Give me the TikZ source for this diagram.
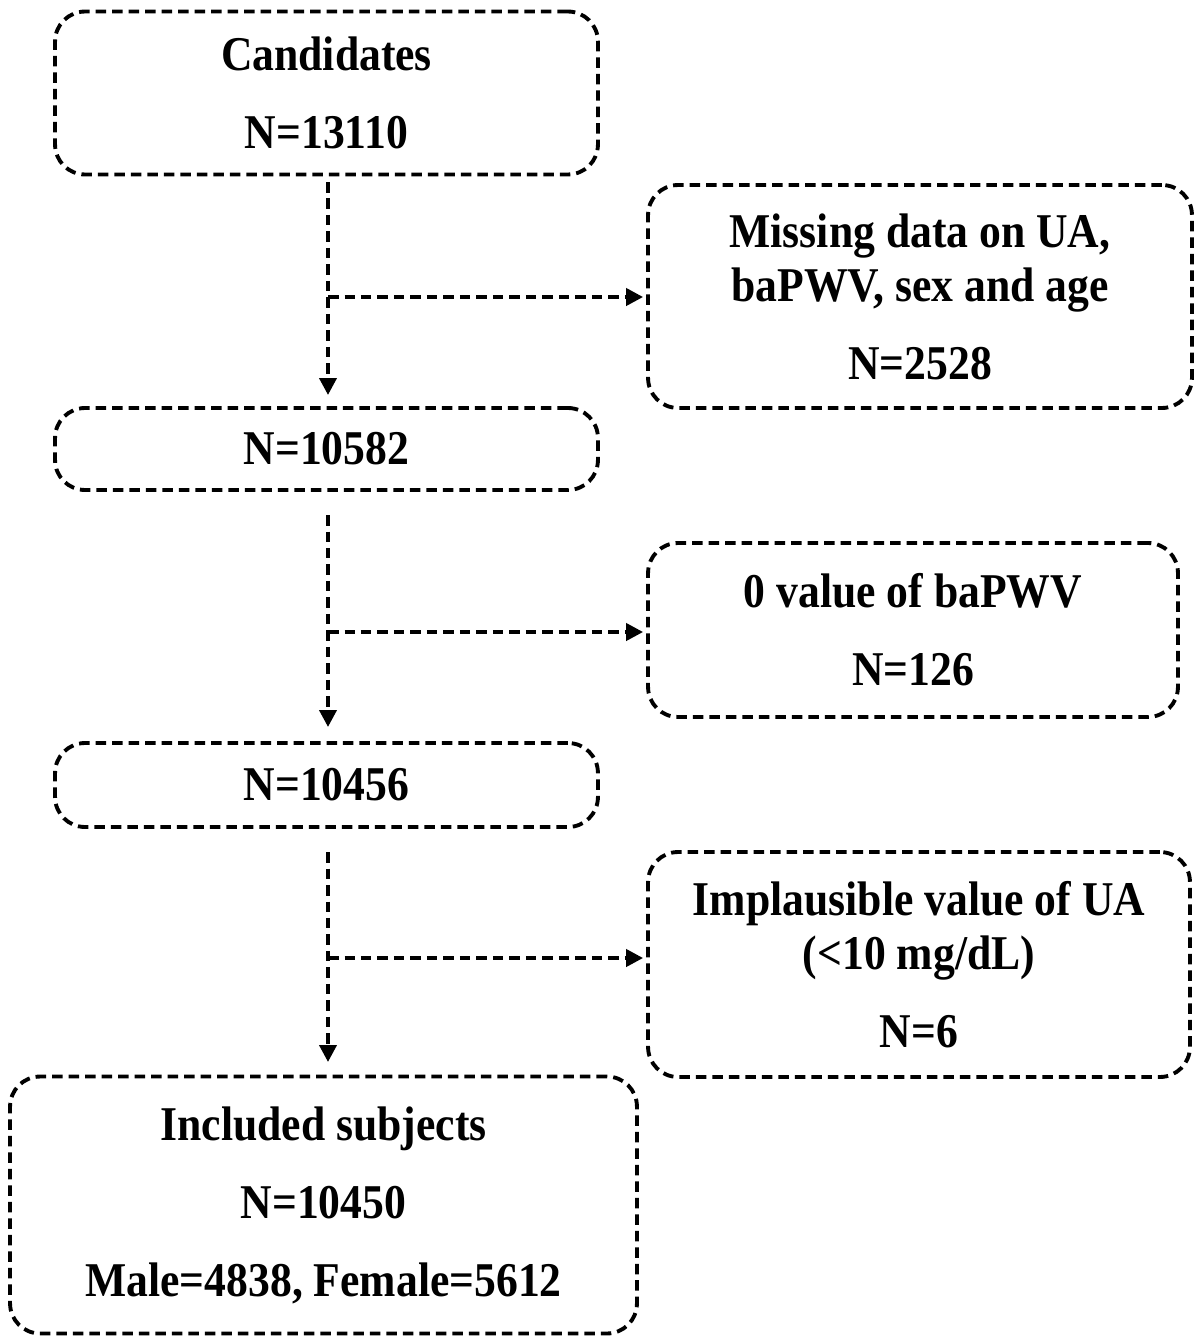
\documentclass[tikz,border=0pt]{standalone}
\usepackage{fontspec}
\setmainfont{Liberation Serif}[FakeStretch=0.9]
\usetikzlibrary{arrows.meta,calc}
\tikzset{
  box/.style={draw=black, line width=2.2pt, dash pattern=on 0.21cm off 0.12cm, rounded corners=0.6cm,
    align=center, inner sep=0pt, font=\fontsize{27.6}{30.7}\selectfont\bfseries},
  arr/.style={draw=black, line width=2.2pt, dash pattern=on 0.21cm off 0.12cm,
    -{Triangle[length=0.34cm,width=0.34cm]}}
}
\begin{document}
\begin{tikzpicture}[x=0.02cm,y=-0.02cm]
\useasboundingbox (0,0) rectangle (1200,1342);
\node[box, minimum width=10.86cm, minimum height=3.26cm] (cand) at (326.5,93) {Candidates\\[0.48cm]N=13110};
\node[box, minimum width=10.88cm, minimum height=4.46cm] (miss) at (920,296.5) {Missing data on UA,\\baPWV, sex and age\\[0.48cm]N=2528};
\node[box, minimum width=10.86cm, minimum height=1.64cm] (n1) at (326.5,449) {N=10582};
\node[box, minimum width=10.6cm, minimum height=3.48cm] (zero) at (913,630) {0 value of baPWV\\[0.48cm]N=126};
\node[box, minimum width=10.86cm, minimum height=1.68cm] (n2) at (326.5,785) {N=10456};
\node[box, minimum width=10.84cm, minimum height=4.5cm] (impl) at (919,964.5) {Implausible value of UA\\(<10 mg/dL)\\[0.48cm]N=6};
\node[box, minimum width=12.54cm, minimum height=5.14cm] (incl) at (323.5,1205) {Included subjects\\[0.48cm]N=10450\\[0.48cm]Male=4838, Female=5612};
% connectors
\coordinate (a1) at (328,182);
\coordinate (b1) at (328,395);
\coordinate (h1) at (328,297);
\coordinate (a2) at (328,515);
\coordinate (b2) at (328,727);
\coordinate (h2) at (328,632);
\coordinate (a3) at (328,852);
\coordinate (b3) at (328,1062);
\coordinate (h3) at (328,958);
\draw[arr] (a1) -- (b1);
\draw[arr] (h1) -- ($(miss.west |- h1)+(-3,0)$);
\draw[arr] (a2) -- (b2);
\draw[arr] (h2) -- ($(zero.west |- h2)+(-3,0)$);
\draw[arr] (a3) -- (b3);
\draw[arr] (h3) -- ($(impl.west |- h3)+(-3,0)$);
\end{tikzpicture}
\end{document}
